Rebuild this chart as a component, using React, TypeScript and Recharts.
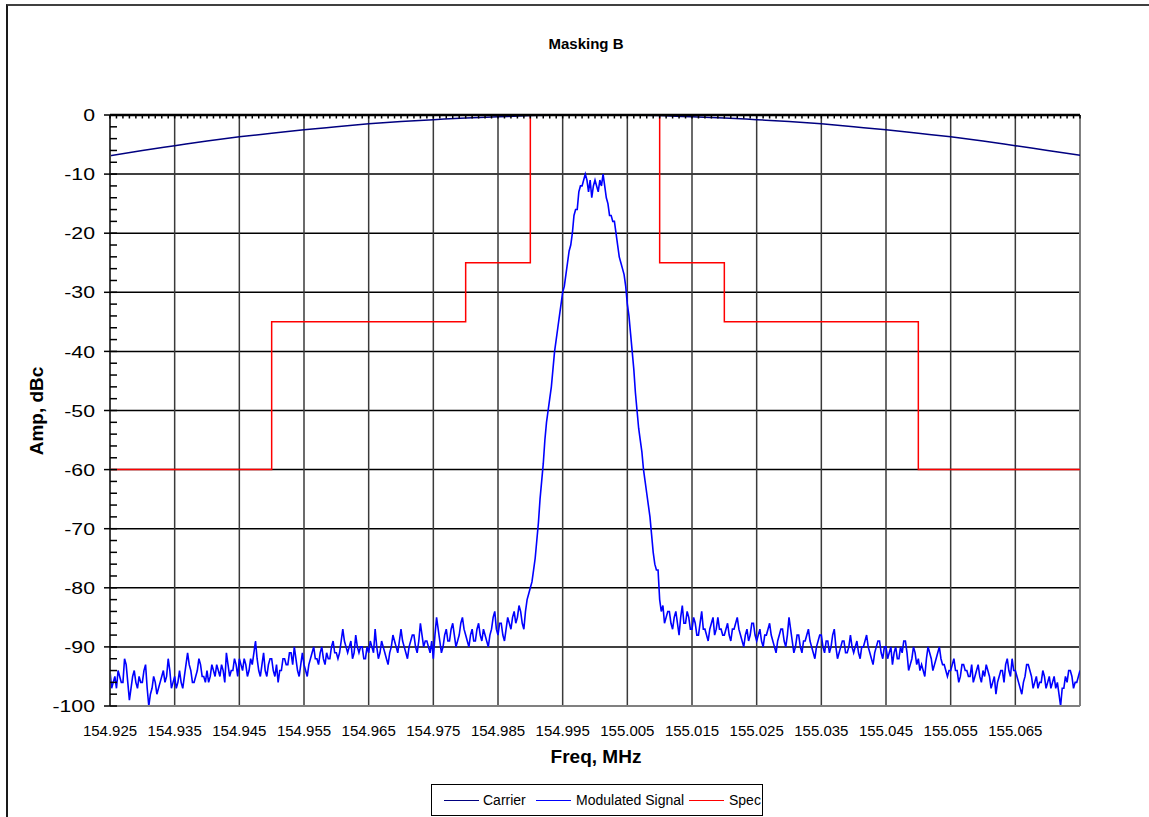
import React from 'react';
import { LineChart, Line, XAxis, YAxis, CartesianGrid, ReferenceLine } from 'recharts';

const FONT = 'Arial, "Liberation Sans", sans-serif';

// x axis labels, MHz
const FREQ_TICKS = [
  154.925, 154.935, 154.945, 154.955, 154.965, 154.975, 154.985, 154.995,
  155.005, 155.015, 155.025, 155.035, 155.045, 155.055, 155.065,
];
// y axis labels, dBc
const AMP_TICKS = [0, -10, -20, -30, -40, -50, -60, -70, -80, -90, -100];

// unmodulated carrier (dBc) every 5 kHz
const carrierFreq = [
  154.925, 154.93, 154.935, 154.94, 154.945, 154.95, 154.955, 154.96, 154.965, 154.97, 154.975,
  154.98, 154.985, 154.99, 154.995, 155.0, 155.005, 155.01, 155.015, 155.02, 155.025, 155.03,
  155.035, 155.04, 155.045, 155.05, 155.055, 155.06, 155.065, 155.07, 155.075,
];
const carrierDb = [
  -6.9, -6.0, -5.2, -4.4, -3.7, -3.1, -2.5, -2.0, -1.5, -1.1, -0.8,
  -0.5, -0.3, -0.1, 0, 0, 0, -0.1, -0.3, -0.5, -0.8,
  -1.1, -1.5, -2.0, -2.5, -3.1, -3.7, -4.4, -5.2, -6.0, -6.8,
];

// emission mask corners
const specFreq = [
  154.925, 154.95, 154.95, 154.98, 154.98, 154.99, 154.99,
  155.01, 155.01, 155.02, 155.02, 155.05, 155.05, 155.075,
];
const specDb = [-60, -60, -35, -35, -25, -25, 0, 0, -25, -25, -35, -35, -60, -60];

// analyser trace, 0.25 kHz bins starting at 154.925 MHz (one row = 5 kHz)
const SIGNAL_START = 154.925;
const SIGNAL_STEP = 0.00025;
const signalDb = [
  -94, -97, -96, -95, -97, -94, -95, -96, -96, -92, -93, -96, -99, -97, -95, -94, -96, -97, -95, -96,
  -96, -94, -93, -97, -100, -98, -97, -95, -96, -98, -97, -96, -95, -94, -96, -95, -92, -94, -97, -96,
  -95, -97, -96, -94, -96, -97, -95, -93, -91, -93, -94, -96, -96, -95, -94, -92, -93, -95, -95, -96,
  -94, -96, -95, -93, -94, -95, -93, -94, -95, -93, -94, -96, -91, -93, -95, -94, -94, -92, -93, -95,
  -92, -93, -94, -92, -93, -95, -94, -92, -93, -91, -89, -92, -94, -95, -93, -91, -94, -95, -93, -92,
  -92, -94, -95, -93, -96, -94, -94, -92, -92, -93, -93, -91, -91, -93, -90, -92, -94, -95, -93, -91,
  -93, -94, -95, -93, -92, -91, -90, -92, -92, -93, -91, -90, -92, -93, -91, -92, -92, -90, -89, -91,
  -91, -92, -91, -89, -87, -89, -90, -91, -90, -89, -92, -91, -88, -90, -91, -90, -90, -92, -92, -90,
  -91, -89, -90, -91, -87, -90, -92, -91, -89, -90, -91, -92, -93, -91, -90, -88, -89, -90, -91, -89,
  -87, -89, -90, -91, -92, -90, -89, -88, -88, -90, -91, -89, -86, -88, -90, -89, -89, -90, -91, -89,
  -92, -88, -85, -87, -89, -91, -90, -88, -87, -89, -89, -87, -86, -88, -90, -89, -88, -86, -85, -87,
  -88, -89, -90, -88, -87, -89, -89, -87, -86, -88, -89, -87, -88, -89, -90, -88, -87, -85, -84, -87,
  -88, -86, -86, -88, -89, -87, -85, -86, -87, -85, -84, -86, -85, -83, -84, -86, -87, -84, -82, -81,
  -80, -79, -77, -75, -72, -69, -65, -62, -59, -55, -52, -50, -48, -46, -43, -40, -38, -36, -34, -32,
  -30, -29, -27, -25, -23, -22, -20, -17, -16, -16, -13, -12, -12, -11, -10, -11, -13, -11, -14, -12,
  -11, -12, -13, -11, -12, -10, -12, -14, -15, -17, -17, -18, -18, -20, -22, -24, -25, -26, -27, -29,
  -32, -34, -37, -40, -43, -47, -50, -53, -55, -57, -60, -62, -64, -66, -68, -71, -74, -76, -77, -77,
  -82, -84, -83, -86, -85, -84, -84, -86, -87, -85, -84, -86, -88, -85, -83, -86, -86, -84, -85, -87,
  -87, -85, -86, -88, -88, -86, -84, -87, -87, -88, -89, -87, -86, -85, -88, -87, -85, -87, -87, -88,
  -88, -87, -86, -88, -89, -87, -87, -86, -85, -87, -88, -89, -90, -88, -87, -89, -88, -86, -86, -88,
  -89, -88, -87, -89, -90, -88, -88, -87, -86, -88, -89, -90, -91, -89, -88, -87, -87, -89, -90, -88,
  -85, -87, -89, -91, -90, -88, -88, -90, -91, -89, -89, -88, -87, -89, -90, -91, -92, -90, -89, -88,
  -88, -90, -91, -89, -89, -91, -90, -88, -87, -90, -92, -91, -90, -89, -89, -91, -91, -90, -88, -90,
  -91, -90, -89, -91, -92, -90, -90, -89, -88, -90, -91, -92, -93, -91, -90, -89, -89, -91, -92, -90,
  -90, -92, -91, -90, -93, -91, -90, -92, -92, -90, -91, -89, -89, -91, -94, -93, -92, -90, -91, -93,
  -92, -94, -93, -94, -95, -92, -90, -91, -92, -94, -93, -92, -91, -90, -92, -93, -93, -94, -95, -94,
  -94, -93, -92, -94, -94, -96, -95, -93, -93, -94, -94, -95, -95, -93, -96, -95, -94, -93, -95, -96,
  -94, -95, -93, -94, -95, -97, -96, -95, -98, -96, -95, -94, -94, -96, -93, -92, -94, -95, -92, -94,
  -94, -95, -96, -97, -98, -96, -95, -93, -93, -94, -95, -97, -96, -95, -97, -96, -96, -94, -95, -97,
  -96, -95, -97, -96, -95, -97, -96, -98, -100, -97, -97, -95, -96, -94, -94, -95, -97, -96, -96, -95,
  -94,
];

const carrierPts = carrierFreq.map((freq, i) => ({ freq, db: carrierDb[i] }));
const specPts = specFreq.map((freq, i) => ({ freq, db: specDb[i] }));
const signalPts = signalDb.map((db, i) => ({ freq: SIGNAL_START + i * SIGNAL_STEP, db }));

// minor tick positions
const AMP_MINOR = Array.from({ length: 51 }, (_, i) => -100 + i * 2);
const FREQ_MINOR = Array.from({ length: 151 }, (_, i) => Number((154.925 + i * 0.001).toFixed(3)));

const AmpTick = ({ x, y, payload }: any) => (
  <text
    x={0}
    y={0}
    dy="0.36em"
    textAnchor="end"
    fontSize={17}
    fontFamily={FONT}
    fill="#000"
    transform={`translate(${x},${y}) scale(1.25,1)`}
  >
    {payload.value}
  </text>
);

// minor ticks: short marks pointing into the plot, no labels
const MinorAmpTick = ({ x, y }: any) => (
  <line x1={x} x2={x + 7} y1={y} y2={y} stroke="#000" strokeWidth={1.5} />
);
const MinorFreqTick = ({ x, y }: any) => (
  <line x1={x} x2={x} y1={y} y2={y + 3.5} stroke="#000" strokeWidth={1.5} />
);

const legendItems = [
  { name: 'Carrier', color: '#000080', line: 12, text: 51 },
  { name: 'Modulated Signal', color: '#0000FF', line: 104, text: 144 },
  { name: 'Spec', color: '#FF0000', line: 257, text: 297 },
];

export default function App() {
  return (
    <div
      style={{
        position: 'absolute',
        left: 0,
        top: 0,
        width: 1149,
        height: 817,
        overflow: 'hidden',
        background: '#fff',
        fontFamily: FONT,
      }}
    >
      {/* chart frame */}
      <div
        style={{
          position: 'absolute',
          left: 6,
          top: 4,
          right: -20,
          bottom: -20,
          borderTop: '2px solid #404040',
          borderLeft: '2px solid #1a1a1a',
        }}
      />

      <div
        style={{
          position: 'absolute', left: 486, top: 35, width: 200, textAlign: 'center',
          fontSize: 15, fontWeight: 'bold', lineHeight: '18px',
        }}
      >
        Masking B
      </div>

      <LineChart
        width={1149}
        height={817}
        margin={{ top: 115, right: 69, left: 50, bottom: 81 }}
        style={{ position: 'absolute', left: 0, top: 0 }}
      >
        <CartesianGrid xAxisId="f" yAxisId="amp" vertical={false} stroke="#000" strokeWidth={1.5} />
        <CartesianGrid xAxisId="f" yAxisId="amp" horizontal={false} stroke="#3a3a3a" strokeWidth={1.5} />
        <XAxis
          xAxisId="f"
          dataKey="freq"
          type="number"
          domain={[154.925, 155.075]}
          allowDataOverflow
          ticks={FREQ_TICKS}
          interval={0}
          tickFormatter={(v: number) => v.toFixed(3)}
          tick={{ fontSize: 15, fill: '#000', fontFamily: FONT }}
          tickLine={false}
          tickSize={6}
          tickMargin={13}
          height={30}
          axisLine={{ stroke: '#808080', strokeWidth: 2 }}
        />
        {/* axis crossing at 0 dBc, minor ticks only */}
        <XAxis
          xAxisId="top"
          dataKey="freq"
          orientation="top"
          type="number"
          domain={[154.925, 155.075]}
          allowDataOverflow
          ticks={FREQ_MINOR}
          interval={0}
          tick={<MinorFreqTick />}
          tickLine={false}
          tickSize={0}
          tickMargin={0}
          mirror
          height={1}
          axisLine={{ stroke: '#000', strokeWidth: 2.5 }}
        />
        <YAxis
          yAxisId="amp"
          type="number"
          domain={[-100, 0]}
          allowDataOverflow
          ticks={AMP_TICKS}
          interval={0}
          tick={<AmpTick />}
          tickLine={{ stroke: '#000', strokeWidth: 1.5 }}
          tickSize={6}
          tickMargin={9}
          width={60}
          axisLine={{ stroke: '#404040', strokeWidth: 2 }}
        />
        <YAxis
          yAxisId="minor"
          type="number"
          domain={[-100, 0]}
          allowDataOverflow
          ticks={AMP_MINOR}
          interval={0}
          tick={<MinorAmpTick />}
          tickLine={false}
          tickSize={0}
          tickMargin={0}
          mirror
          width={1}
          axisLine={false}
        />
        <ReferenceLine xAxisId="f" yAxisId="amp" x={155.075} stroke="#808080" strokeWidth={2} />
        {/* the mask shares the same scales through the minor-tick axes */}
        <Line
          xAxisId="top"
          yAxisId="minor"
          data={specPts}
          dataKey="db"
          name="Spec"
          type="linear"
          stroke="#FF0000"
          strokeWidth={1.5}
          dot={false}
          isAnimationActive={false}
        />
        <Line
          xAxisId="f"
          yAxisId="amp"
          data={signalPts}
          dataKey="db"
          name="Modulated Signal"
          type="linear"
          stroke="#0000FF"
          strokeWidth={1.6}
          dot={false}
          isAnimationActive={false}
        />
        <Line
          xAxisId="f"
          yAxisId="amp"
          data={carrierPts}
          dataKey="db"
          name="Carrier"
          type="monotone"
          stroke="#000080"
          strokeWidth={1.5}
          dot={false}
          isAnimationActive={false}
        />
      </LineChart>

      <div
        style={{
          position: 'absolute', left: 496, top: 746, width: 200, textAlign: 'center',
          fontSize: 19, fontWeight: 'bold', lineHeight: '22px',
        }}
      >
        Freq, MHz
      </div>
      <div
        style={{
          position: 'absolute', left: -63, top: 400, width: 200, textAlign: 'center',
          fontSize: 19, fontWeight: 'bold', lineHeight: '22px', transform: 'rotate(-90deg)',
        }}
      >
        Amp, dBc
      </div>

      {/* legend */}
      <div
        style={{
          position: 'absolute', left: 431, top: 784, width: 330, height: 30,
          border: '1px solid #000', overflow: 'hidden', background: '#fff',
        }}
      >
        {legendItems.map((it) => (
          <React.Fragment key={it.name}>
            <div
              style={{
                position: 'absolute', left: it.line, top: 15, width: 35, height: 0,
                borderTop: `1.5px solid ${it.color}`,
              }}
            />
            <div
              style={{
                position: 'absolute', left: it.text, top: 6, fontSize: 14, lineHeight: '18px',
                whiteSpace: 'nowrap', color: '#000',
              }}
            >
              {it.name}
            </div>
          </React.Fragment>
        ))}
      </div>
    </div>
  );
}
